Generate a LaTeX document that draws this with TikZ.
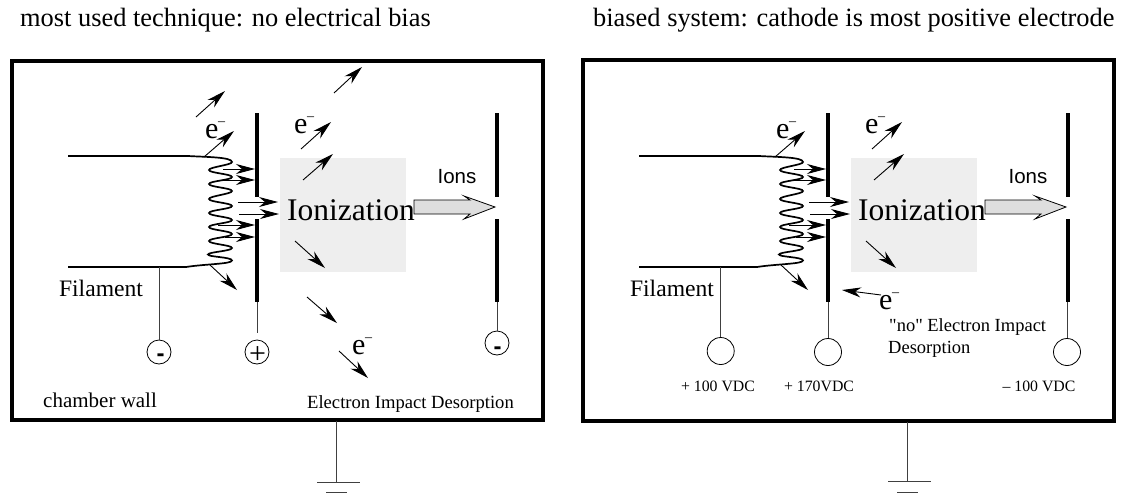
\documentclass[tikz,border=0pt]{standalone}
\usepackage{fontspec}
\setmainfont{Liberation Serif}
\setsansfont{Liberation Sans}
\newfontfamily\plainserif{Liberation Serif}
\usetikzlibrary{arrows.meta}
\tikzset{
  frame/.style={draw=black,line width=4pt,line join=miter},
  plate/.style={line width=3.8pt,black},
  wire/.style={line width=0.9pt,black!75},
  thick line/.style={line width=1.7pt,black},
  electron/.style={line width=0.9pt,-{Stealth[length=19pt,width=10pt,inset=6pt]}},
  dot/.style={circle,draw,line width=0.8pt,minimum size=24pt,inner sep=0pt},
  bigdot/.style={circle,draw,line width=0.8pt,minimum size=27pt,inner sep=0pt},
  txt/.style={inner sep=0pt,text=black},
  elabel/.style={txt,font=\fontsize{30}{30}\selectfont},
  ground/.style={line width=0.9pt,black!75},
}
\newcommand{\elec}{e\kern-0.5pt\raisebox{12.5pt}{\fontsize{14}{14}\selectfont –}}
% \earrow{name}{from}{to}
\newcommand{\earrow}[3]{%
  \coordinate (#1a) at (#2);\coordinate (#1b) at (#3);
  \draw[electron] (#1a) -- (#1b);}
\newcommand{\commonpanel}{%
  \fill[black!6.5] (280,158) rectangle (406,272);
  \coordinate (ft1) at (68,156);\coordinate (ft2) at (188,156);
  \coordinate (fb1) at (68,267);\coordinate (fb2) at (186,267);
  \earrow{h1}{223,169}{255,169}
  \earrow{h2}{223,180}{255,180}
  \earrow{h5}{218,225}{255,225}
  \earrow{h6}{225,237}{255,237}
  \draw[thick line] (ft1) -- (ft2) .. controls (205,157) and (232,157) .. (232,162)
    .. controls (232,165) and (209,167) .. (209,170)
    .. controls (209,173) and (232,174) .. (232,177)
    .. controls (232,180) and (209,181) .. (209,184)
    .. controls (209,187) and (232,188) .. (232,191)
    .. controls (232,194) and (209,196) .. (209,199)
    .. controls (209,202) and (232,203) .. (232,206)
    .. controls (232,209) and (209,210) .. (209,213)
    .. controls (209,216) and (232,217) .. (232,220)
    .. controls (232,223) and (209,224) .. (209,227)
    .. controls (209,230) and (232,231) .. (232,234)
    .. controls (232,237) and (209,238) .. (209,241)
    .. controls (209,244) and (232,245) .. (232,248)
    .. controls (232,251) and (208,252) .. (208,254.5)
    .. controls (208,257) and (232,257) .. (232,260.5)
    .. controls (232,264) and (205,264) .. (fb2) -- (fb1);
  \draw[plate] (257,113) -- (257,197);
  \draw[plate] (257,219) -- (257,302);
  \draw[plate] (497,113) -- (497,197);
  \draw[plate] (497,219) -- (497,302);
  \earrow{u1}{204,157}{234,131}
  \earrow{u2}{301,149}{331,122}
  \earrow{u3}{303,180}{333,154}
  \earrow{d1}{295,241}{325,268}
  \earrow{d2}{210,265}{237,290}
  \earrow{h3}{238,202}{278,202}
  \earrow{h4}{239,214}{279,214}
  \node[elabel,anchor=base west] (e1) at (205,138) {\elec};
  \node[elabel,anchor=base west] (e2) at (294,133) {\elec};
  \node[txt,anchor=base,font=\fontsize{31.5}{31.5}\selectfont] (ioniz) at (351,220) {Ionization};
  \node[txt,font=\sffamily\fontsize{20.5}{20.5}\selectfont] (ions) at (457,177) {Ions};
  \draw[line width=0.8pt,fill=black!13,line join=miter] (414,200) -- (470,200) -- (464,196) -- (495,207) -- (464,219) -- (470,214) -- (414,214) -- cycle;
  \node[txt,font=\fontsize{23.6}{23.6}\selectfont] (fil) at (101,288) {Filament};
}
\begin{document}
\begin{tikzpicture}[x=1pt,y=-1pt]
\useasboundingbox (0,0) rectangle (1121,493);
\node[txt,anchor=base west,font=\fontsize{26.4}{26.4}\selectfont] (t1) at (20,26) {most used technique: no electrical bias};
\node[txt,anchor=base west,font=\fontsize{26.4}{26.4}\selectfont] (t2) at (593,26) {biased system: cathode is most positive electrode};
% left panel
\draw[frame] (11.5,61) rectangle (543,419.5);
\commonpanel
\earrow{u4}{196,117}{225,91}
\earrow{u5}{334,93}{362,67}
\earrow{d3}{307,297}{337,323}
\earrow{d4}{339,351}{368,378}
\node[elabel,anchor=base west] (e3) at (352,354) {\elec};
\node[dot] (c1) at (159,352) {};
\node[dot] (c2) at (257,352) {};
\node[dot] (c3) at (497,343) {};
\node[txt,anchor=base,font=\sffamily\bfseries\fontsize{24}{24}\selectfont] at (160.5,361.5) {-};
\node[txt,anchor=base,font=\fontsize{30}{30}\selectfont] at (257.5,363.5) {+};
\node[txt,anchor=base,font=\sffamily\bfseries\fontsize{24}{24}\selectfont] at (497.5,354.5) {-};
\coordinate (j1) at (159,267);
\draw[wire] (j1) -- (c1);
\coordinate (p1) at (257,302);
\draw[wire] (p1) -- (257,332.5);
\coordinate (p2) at (497,302);
\draw[wire] (p2) -- (c3);
\node[txt,anchor=base west,font=\fontsize{21}{21}\selectfont] (cw) at (43,407) {chamber wall};
\node[txt,anchor=base west,font=\fontsize{18.6}{18.6}\selectfont] (eid) at (307,408) {Electron Impact Desorption};
\coordinate (g1) at (336,421);\coordinate (g2) at (336,482);
\coordinate (g3) at (317,482);\coordinate (g4) at (360,482);
\coordinate (g5) at (326,492);\coordinate (g6) at (347,492);
\draw[ground] (g1) -- (g2) (g3) -- (g4) (g5) -- (g6);
% right panel
\draw[frame] (583,60) rectangle (1114,421);
\begin{scope}[xshift=571pt]
\commonpanel
\end{scope}
\node[bigdot] (c4) at (720.7,351) {};
\node[bigdot] (c5) at (828,352) {};
\node[bigdot] (c6) at (1067,352) {};
\coordinate (j2) at (720.7,267);
\draw[wire] (j2) -- (c4);
\coordinate (p3) at (828,302);
\draw[wire] (p3) -- (c5);
\coordinate (p4) at (1067,302);
\draw[wire] (p4) -- (c6);
\earrow{n}{881,295}{842,290}
\node[elabel,anchor=base west] (e4) at (879,309) {\elec};
\node[txt,font=\fontsize{15.8}{15.8}\selectfont,anchor=base] (v1) at (718,391) {+ 100 VDC};
\node[txt,font=\fontsize{15.8}{15.8}\selectfont,anchor=base] (v2) at (819,391) {+ 170VDC};
\node[txt,font=\fontsize{15.8}{15.8}\selectfont,anchor=base] (v3) at (1039,391) {– 100 VDC};
\node[txt,font=\plainserif\fontsize{18.5}{18.5}\selectfont,anchor=base west] (n1) at (889,331) {"no" Electron Impact};
\node[txt,font=\fontsize{18.5}{18.5}\selectfont,anchor=base west] (n2) at (888,353) {Desorption};
\coordinate (r1) at (907,422);\coordinate (r2) at (907,481);
\coordinate (r3) at (888,481);\coordinate (r4) at (931,481);
\coordinate (r5) at (897,492);\coordinate (r6) at (918,492);
\draw[ground] (r1) -- (r2) (r3) -- (r4) (r5) -- (r6);
\end{tikzpicture}
\end{document}
